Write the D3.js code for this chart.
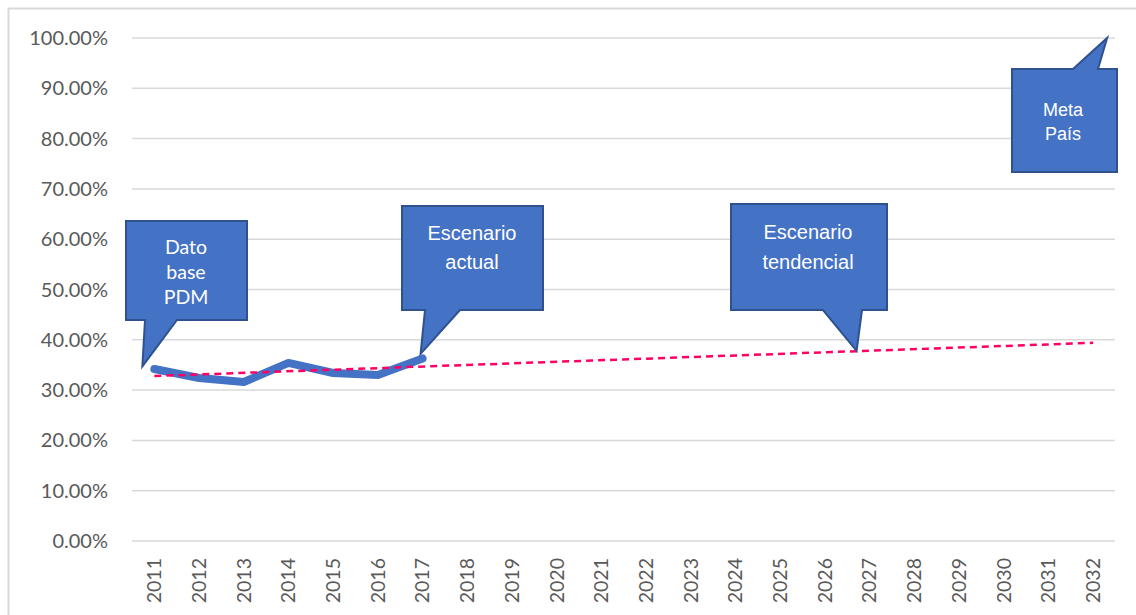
<!DOCTYPE html>
<html>
<head>
<meta charset="utf-8">
<script src="https://cdn.jsdelivr.net/npm/d3@7"></script>
<style>
  body { margin: 0; background: #fff; }
  svg { display: block; }
</style>
</head>
<body>
<svg class="chart-frame"></svg>
<script>
// data
const years = d3.range(2011, 2033).map(String);
const actualYears = ["2011", "2012", "2013", "2014", "2015", "2016", "2017"];
const actualValues = [34.2, 32.4, 31.6, 35.4, 33.4, 33.0, 36.3];
const trendYears = ["2011", "2032"];
const trendValues = [32.8, 39.4];
const yTicks = [0, 10, 20, 30, 40, 50, 60, 70, 80, 90, 100];

const margin = {top: 38, right: 21, bottom: 74, left: 132}
  , width = 1136 - margin.left - margin.right
  , height = 615 - margin.top - margin.bottom;

const svg = d3.select(".chart-frame")
  .attr("width", 1136)
  .attr("height", 615);

// outer chart border (left + top visible)
svg.append("path")
  .attr("d", "M8.5,615 V8.5 H1136")
  .attr("fill", "none")
  .attr("stroke", "#D9D9D9")
  .attr("stroke-width", 2);

const graph = svg.append("g")
  .attr("transform", "translate(" + margin.left + "," + margin.top + ")");

const xScale = d3.scaleBand()
  .range([0, width + 0.5])
  .domain(years);

const yScale = d3.scaleLinear()
  .range([height, 0])
  .domain([0, 100]);

const xMid = d => xScale(d) + xScale.bandwidth() / 2;

// gridlines
graph.append("g")
  .selectAll("line")
  .data(yTicks)
  .enter().append("line")
  .attr("x1", 0)
  .attr("x2", width)
  .attr("y1", d => yScale(d))
  .attr("y2", d => yScale(d))
  .attr("stroke", "#D9D9D9")
  .attr("stroke-width", 1.5);

// y labels
graph.append("g")
  .selectAll("text")
  .data(yTicks)
  .enter().append("text")
  .attr("x", -24)
  .attr("y", d => yScale(d))
  .attr("dy", "0.35em")
  .attr("text-anchor", "end")
  .attr("font-family", "Lato, 'Open Sans', sans-serif")
  .attr("font-size", "20px")
  .attr("fill", "#595959")
  .text(d => d3.format(".2f")(d) + "%");

// x labels, rotated
graph.append("g")
  .selectAll("text")
  .data(years)
  .enter().append("text")
  .attr("transform", d => "translate(" + xMid(d) + "," + (height + 17) + ") rotate(-90)")
  .attr("dy", "0.35em")
  .attr("text-anchor", "end")
  .attr("font-family", "Lato, 'Open Sans', sans-serif")
  .attr("font-size", "19.5px")
  .attr("fill", "#595959")
  .text(d => d);

// actual series
const line = d3.line()
  .x(d => xMid(d[0]))
  .y(d => yScale(d[1]));

graph.append("path")
  .datum(d3.zip(actualYears, actualValues))
  .attr("d", line)
  .attr("fill", "none")
  .attr("stroke", "#4472C4")
  .attr("stroke-width", 8)
  .attr("stroke-linecap", "round")
  .attr("stroke-linejoin", "round");

// trend line
graph.append("path")
  .datum(d3.zip(trendYears, trendValues))
  .attr("d", line)
  .attr("fill", "none")
  .attr("stroke", "#FF0066")
  .attr("stroke-width", 2.5)
  .attr("stroke-dasharray", "7,5");

// callouts: box in page pixels, tail tip anchored on data through the scales
const callouts = [
  {lines: ["Dato", "base", "PDM"], font: "Lato, sans-serif", size: 19.5, lh: 25,
   box: [126, 221, 247, 320], base: [145, 177], tip: ["2011", 34.7, -12], tx: 186, ty: 247},
  {lines: ["Escenario", "actual"], font: "'Liberation Sans', Arial, sans-serif", size: 20, lh: 29,
   box: [402, 206, 543, 310], base: [425, 460], tip: ["2017", 37.2, -2], tx: 472, ty: 233},
  {lines: ["Escenario", "tendencial"], font: "'Liberation Sans', Arial, sans-serif", size: 20, lh: 30,
   box: [731, 204, 887, 310], base: [823, 862], tip: ["2027", 37.8, -13], tx: 808, ty: 232},
  {lines: ["Meta", "País"], font: "'Liberation Sans', Arial, sans-serif", size: 18, lh: 24,
   box: [1012, 69, 1117, 172], base: [1073, 1098], tip: ["2032", 100, 14], tx: 1063, ty: 110}
];

const notes = svg.append("g");

callouts.forEach(c => {
  const [x0, y0, x1, y1] = c.box;
  const tipX = margin.left + xMid(c.tip[0]) + c.tip[2];
  const tipY = margin.top + yScale(c.tip[1]);
  let d;
  if (tipY > y1) {
    d = "M" + x0 + "," + y0 + "H" + x1 + "V" + y1 + "H" + c.base[1]
      + "L" + tipX + "," + tipY + "L" + c.base[0] + "," + y1 + "H" + x0 + "Z";
  } else {
    d = "M" + x0 + "," + y0 + "H" + c.base[0] + "L" + tipX + "," + tipY
      + "L" + c.base[1] + "," + y0 + "H" + x1 + "V" + y1 + "H" + x0 + "Z";
  }
  notes.append("path")
    .attr("d", d)
    .attr("fill", "#4472C4")
    .attr("stroke", "#2F528F")
    .attr("stroke-width", 2)
    .attr("stroke-linejoin", "miter");

  notes.append("g")
    .selectAll("text")
    .data(c.lines)
    .enter().append("text")
    .attr("x", c.tx)
    .attr("y", (d, i) => c.ty + i * c.lh)
    .attr("dy", "0.35em")
    .attr("text-anchor", "middle")
    .attr("font-family", c.font)
    .attr("font-size", c.size + "px")
    .attr("fill", "#fff")
    .text(d => d);
});
</script>
</body>
</html>
